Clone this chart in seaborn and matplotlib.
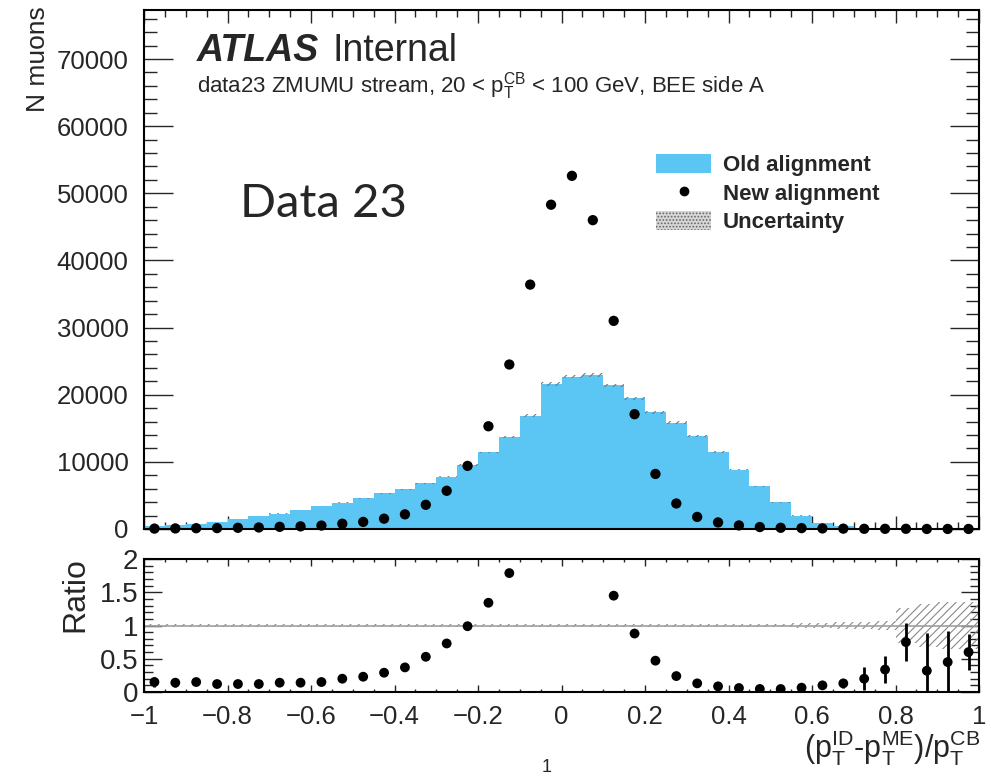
import numpy as np
import pandas as pd
import seaborn as sns
import matplotlib.pyplot as plt
from matplotlib.patches import Patch
from matplotlib.lines import Line2D
from matplotlib.ticker import MultipleLocator, FuncFormatter

# binning: 40 bins of 0.05 between -1 and 1
n_bins = 40
bin_edges = np.linspace(-1, 1, n_bins + 1)
bin_centers = 0.5 * (bin_edges[:-1] + bin_edges[1:])

old_counts = [400, 600, 800, 1100, 1500, 1900, 2300, 2800, 3400, 3900,
              4600, 5300, 5900, 6800, 7800, 9500, 11400, 13700, 16900, 21600,
              22700, 22900, 21400, 19450, 17400, 15850, 13850, 11500, 8850, 6350,
              4000, 2000, 850, 400, 150, 80, 40, 25, 20, 15]
new_counts = [60, 84, 120, 132, 180, 228, 322, 392, 510, 780,
              1058, 1537, 2183, 3604, 5694, 9400, 15300, 24500, 36400, 48300,
              52600, 46000, 31000, 17100, 8200, 3800, 1800, 980, 530, 290,
              180, 130, 85, 52, 30, 27, 30, 8, 9, 9]
ratio_err = [0.07, 0.06, 0.05, 0.03, 0.03, 0.03, 0.03, 0.02, 0.02, 0.02,
             0.02, 0.02, 0.02, 0.02, 0.02, 0.02, 0.02, 0.02, 0.02, 0.02,
             0.02, 0.02, 0.02, 0.02, 0.02, 0.02, 0.02, 0.02, 0.02, 0.02,
             0.03, 0.04, 0.05, 0.07, 0.17, 0.20, 0.29, 0.56, 0.47, 0.27]
band_half = [0.03, 0.03, 0.03, 0.025, 0.025, 0.025, 0.025, 0.025, 0.025, 0.025,
             0.025, 0.025, 0.025, 0.025, 0.025, 0.025, 0.025, 0.025, 0.025, 0.025,
             0.025, 0.025, 0.025, 0.025, 0.025, 0.025, 0.025, 0.025, 0.025, 0.025,
             0.03, 0.035, 0.04, 0.05, 0.06, 0.07, 0.26, 0.33, 0.35, 0.36]

df = pd.DataFrame({"x": bin_centers, "old": old_counts, "new": new_counts})
df["ratio"] = df["new"] / df["old"]
band = np.array(band_half)
old = df["old"].to_numpy(dtype=float)
main_band = np.array(band_half) * 0.5

sns.set_style("ticks")
plt.rcParams['font.family'] = ['Liberation Sans', 'DejaVu Sans']
plt.rcParams['mathtext.fontset'] = 'custom'
plt.rcParams['mathtext.rm'] = 'Liberation Sans'
plt.rcParams['mathtext.it'] = 'Liberation Sans:italic'
plt.rcParams['hatch.linewidth'] = 0.8

blue = "#5bc5f4"

fig = plt.figure(figsize=(9.91, 7.79), dpi=100)
ax = fig.add_axes([144/991, 1-529/779, 835/991, 519/779])
rax = fig.add_axes([144/991, 1-692/779, 835/991, 133/779])

# main panel
sns.histplot(data=df, x="x", weights="old", bins=n_bins, binrange=(-1, 1), element="step",
             fill=True, alpha=1, linewidth=0, color=blue, ax=ax)
lo = np.append(old * (1 - main_band), old[-1] * (1 - main_band[-1]))
hi = np.append(old * (1 + main_band), old[-1] * (1 + main_band[-1]))
ax.fill_between(bin_edges, lo, hi, step="post", facecolor="none",
                edgecolor="#777777", hatch="////", linewidth=0)
sns.scatterplot(data=df, x="x", y="new", color="black", s=55, edgecolor="none",
                ax=ax, clip_on=False, zorder=5)

ax.set_xlim(-1, 1)
ax.set_ylim(0, 77300)
ax.set_ylabel("")
ax.set_xlabel("")
ax.xaxis.set_major_locator(MultipleLocator(0.2))
ax.xaxis.set_minor_locator(MultipleLocator(0.05))
ax.yaxis.set_major_locator(MultipleLocator(10000))
ax.yaxis.set_minor_locator(MultipleLocator(2000))
ax.yaxis.set_major_formatter(FuncFormatter(lambda v, p: f"{int(round(v))}"))
ax.tick_params(which="both", direction="in", top=True, right=True, labelbottom=False, width=1)
ax.tick_params(axis="y", which="major", length=21, labelsize=18.5, pad=11)
ax.tick_params(axis="y", which="minor", length=9.5)
ax.tick_params(axis="x", which="major", length=9.5)
ax.tick_params(axis="x", which="minor", length=5)

legend_handles = [
    Patch(facecolor=blue, edgecolor="none"),
    Line2D([], [], marker="o", ls="none", color="black", ms=6),
    Patch(facecolor="#d6d6d6", edgecolor="#666666", hatch=".....", linewidth=0),
]
ax.legend(legend_handles, ["Old alignment", "New alignment", "Uncertainty"],
          loc="upper left", bbox_to_anchor=(0.613, 0.722), frameon=False,
          prop={"weight": "bold", "size": 16}, handlelength=2.5, handleheight=0.9,
          handletextpad=0.5, labelspacing=0.3, borderpad=0, borderaxespad=0)

# ratio panel (points outside the range are not drawn, as in ROOT)
shown = df[df["ratio"] <= 2]
shown_err = [ratio_err[i] for i in shown.index]
rax.fill_between(bin_edges, np.append(1 - band, 1 - band[-1]), np.append(1 + band, 1 + band[-1]),
                 step="post", facecolor="none", edgecolor="#888888", hatch="////", linewidth=0)
rax.axhline(1, color="#a0a0a0", lw=1.2, zorder=1)
rax.errorbar(shown["x"], shown["ratio"], yerr=shown_err, fmt="none", ecolor="black",
             elinewidth=2, capsize=0)
sns.scatterplot(data=shown, x="x", y="ratio", color="black", s=50, edgecolor="none", ax=rax, zorder=5)

rax.set_xlim(-1, 1)
rax.set_ylim(0, 2)
rax.set_xlabel("")
rax.set_ylabel("")
rax.xaxis.set_major_locator(MultipleLocator(0.2))
rax.xaxis.set_minor_locator(MultipleLocator(0.05))
rax.yaxis.set_major_locator(MultipleLocator(0.5))
rax.yaxis.set_minor_locator(MultipleLocator(0.1))
rax.xaxis.set_major_formatter(FuncFormatter(lambda v, p: f"{round(v, 6):g}".replace("-", "\u2212")))
rax.yaxis.set_major_formatter(FuncFormatter(lambda v, p: f"{round(v, 6):g}"))
rax.tick_params(which="both", direction="in", top=True, right=True, width=1)
rax.tick_params(axis="y", which="major", length=13, labelsize=20, pad=4)
rax.tick_params(axis="y", which="minor", length=6.5)
rax.tick_params(axis="x", which="major", length=5, labelsize=18.5, pad=9)
rax.tick_params(axis="x", which="minor", length=2.5)

for a in (ax, rax):
    for s in a.spines.values():
        s.set_linewidth(1.5)
        s.set_color("black")

# labels and annotations
fig.text(38/991, 1-6/779, "N muons", rotation=90, ha="center", va="top", fontsize=19)
fig.text(75/991, 1-557/779, "Ratio", rotation=90, ha="center", va="top", fontsize=23)
fig.text(980/991, 1-757/779,
         r"(p$_\mathrm{T}^\mathrm{ID}$-p$_\mathrm{T}^\mathrm{ME}$)/p$_\mathrm{T}^\mathrm{CB}$",
         ha="right", va="baseline", fontsize=22)
fig.text(547/991, 1-772/779, "1", ha="center", va="baseline", fontsize=13)

fig.text(197/991, 1-61/779, "ATLAS", fontsize=27, weight="bold", style="italic", va="baseline")
fig.text(333/991, 1-61/779, "Internal", fontsize=27, va="baseline")
fig.text(197/991, 1-93/779,
         r"data23 ZMUMU stream, 20 < p$_\mathrm{T}^\mathrm{CB}$ < 100 GeV, BEE side A",
         fontsize=16, va="baseline")
fig.text(240/991, 1-217/779, "Data 23", fontsize=34, family=["Lato", "DejaVu Sans"], va="baseline")

fig.savefig("out.png", dpi=100)
